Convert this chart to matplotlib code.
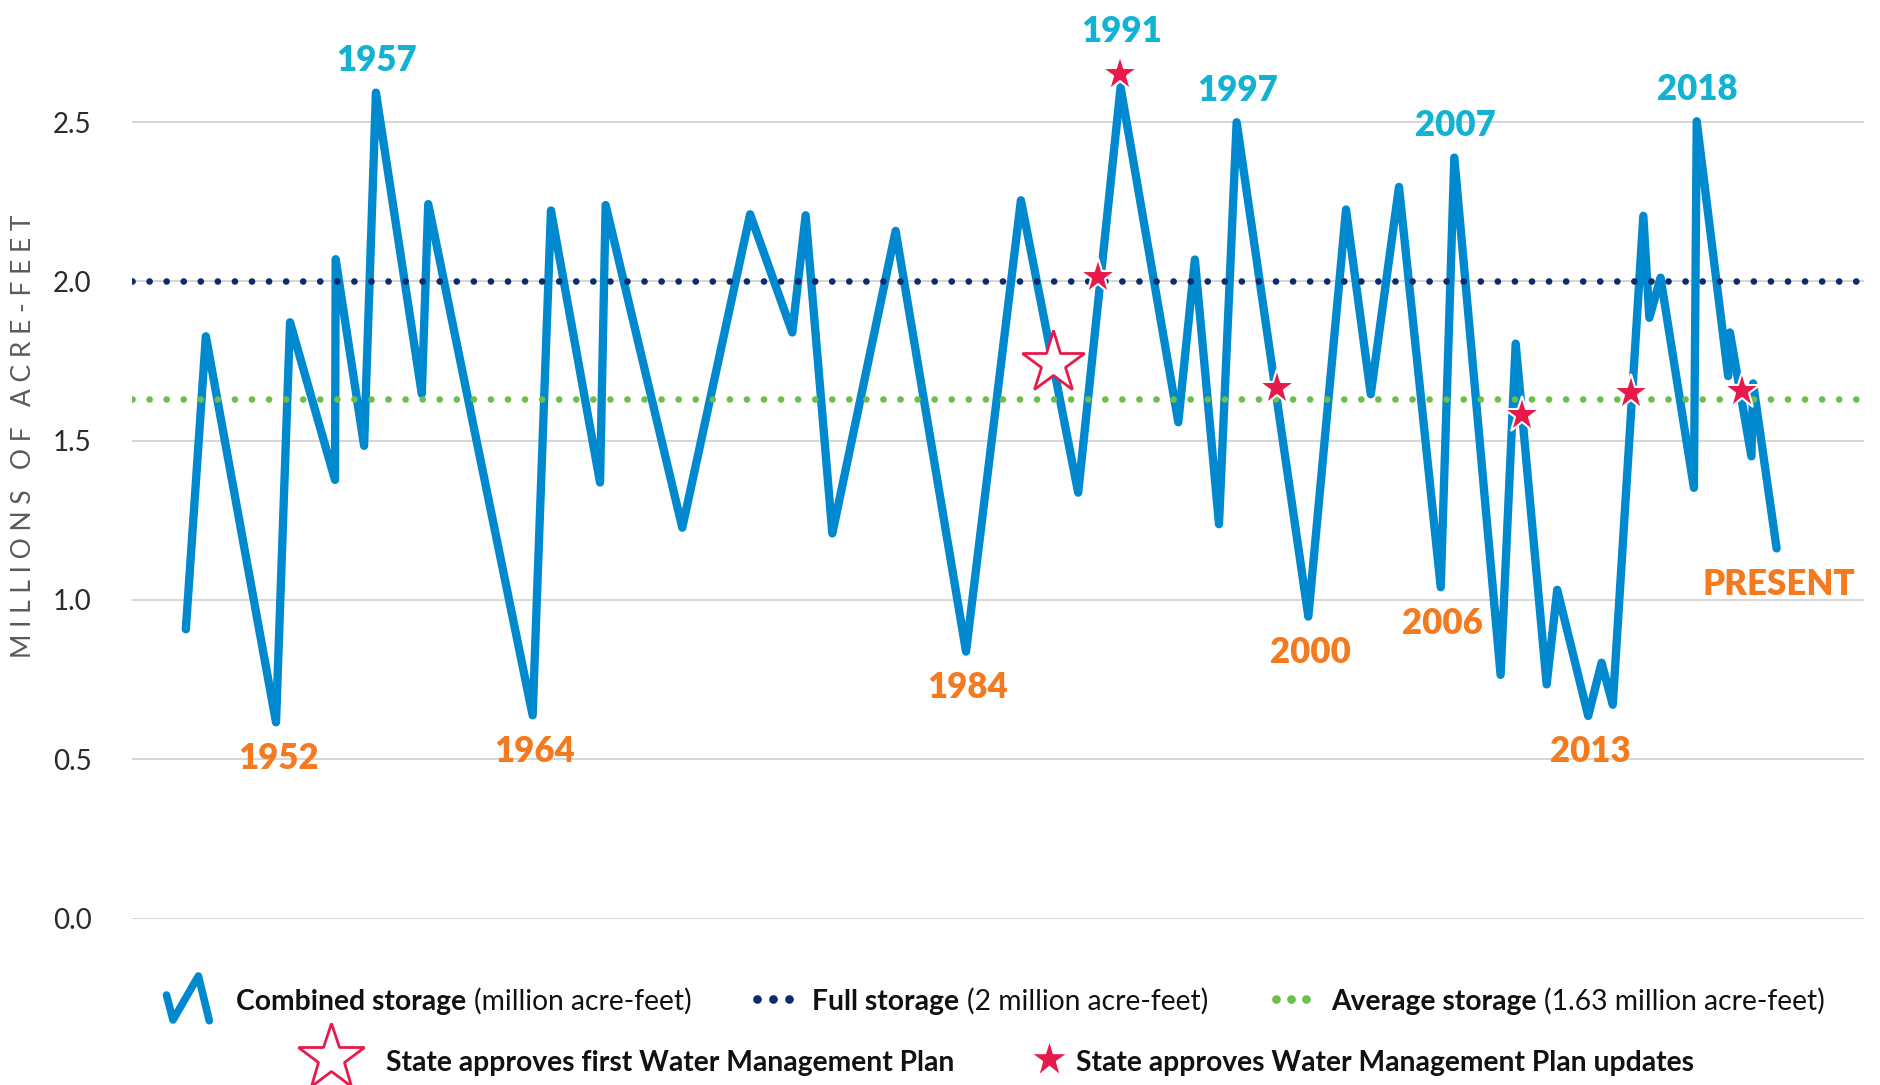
import numpy as np
import matplotlib
matplotlib.use("Agg")
import matplotlib.pyplot as plt
from matplotlib.lines import Line2D

# ---------------- data ----------------
years = [1947.81, 1948.74, 1952.00, 1952.65, 1954.74, 1954.77, 1956.09, 1956.64,
         1958.77, 1959.07, 1963.92, 1964.77, 1967.05, 1967.31, 1970.87, 1974.02,
         1975.98, 1976.60, 1977.84, 1980.78, 1984.05, 1986.60, 1989.26, 1991.23,
         1993.91, 1994.68, 1995.80, 1996.62, 1999.95, 2001.70, 2002.85, 2004.16,
         2006.10, 2006.73, 2008.88, 2009.58, 2011.02, 2011.51, 2012.95, 2013.57,
         2014.09, 2015.51, 2015.79, 2016.31, 2017.86, 2017.99, 2019.45, 2019.53,
         2020.53, 2020.61, 2021.70]
storage = [0.908, 1.828, 0.616, 1.872, 1.377, 2.070, 1.484, 2.593,
           1.647, 2.243, 0.638, 2.223, 1.369, 2.240, 1.227, 2.211,
           1.840, 2.208, 1.209, 2.159, 0.838, 2.255, 1.337, 2.610,
           1.558, 2.069, 1.238, 2.500, 0.948, 2.226, 1.646, 2.297,
           1.040, 2.389, 0.765, 1.805, 0.735, 1.032, 0.636, 0.803,
           0.671, 2.206, 1.886, 2.012, 1.352, 2.503, 1.703, 1.840,
           1.451, 1.680, 1.162]

full_storage = 2.0
average_storage = 1.63

first_plan_years = [1988.08]
first_plan_values = [1.743]
update_years = [1990.19, 1991.20, 1998.48, 2009.86, 2014.94, 2020.08]
update_values = [2.015, 2.650, 1.665, 1.581, 1.649, 1.657]

high_labels = ["1957", "1991", "1997", "2007", "2018"]
high_label_years = [1957, 1991, 1997, 2007, 2018]
low_labels = ["1952", "1964", "1984", "2000", "2006", "2013", "PRESENT"]
low_label_years = [1952, 1964, 1984, 2000, 2006, 2013, 2022]

ytick_values = [0.0, 0.5, 1.0, 1.5, 2.0, 2.5]
ytick_labels = ["0.0", "0.5", "1.0", "1.5", "2.0", "2.5"]
ylabel_text = "M I L L I O N S   O F   A C R E - F E E T"

legend_row1 = [
    [("Combined storage", "bold"), ("(million acre-feet)", "normal")],
    [("Full storage", "bold"), ("(2 million acre-feet)", "normal")],
    [("Average storage", "bold"), ("(1.63 million acre-feet)", "normal")],
]
legend_row2 = [
    [("State approves first Water Management Plan", "bold")],
    [("State approves Water Management Plan updates", "bold")],
]

# ---------------- styles ----------------
BLUE = "#0089cf"
CYAN = "#12b2d3"
ORANGE = "#f47a20"
NAVY = "#0c2c6c"
GREEN = "#6cbf48"
RED = "#e81a4b"
GRID = "#cfcfcf"
FONT = ["Lato", "DejaVu Sans"]

W, H = 1880, 1085
fig = plt.figure(figsize=(W / 100, H / 100), dpi=100)
fig.patch.set_facecolor("white")

def fx(px):
    return px / W

def fy(py):
    return 1 - py / H

ax = fig.add_axes([fx(132), fy(918.5), (1864 - 132) / W, 2.85 * 318.5 / H])
ax.set_xlim(1945.31, 2025.76)
ax.set_ylim(0, 2.85)
for s in ax.spines.values():
    s.set_visible(False)
ax.set_xticks([])
ax.set_yticks(ytick_values)
ax.set_yticklabels(ytick_labels, fontsize=20, color="#2b2b2b", family=FONT)
ax.tick_params(axis="y", length=0, pad=29)
for v in ytick_values:
    ax.axhline(v, color=GRID, lw=1.2, zorder=0)

# main series
ax.plot(years, storage, color=BLUE, lw=6.0, solid_joinstyle="round",
        solid_capstyle="round", zorder=2)

# dotted reference lines
ax.axhline(full_storage, color=NAVY, lw=4.8, linestyle=(0, (0.01, 2.55)),
           dash_capstyle="round", zorder=3)
ax.axhline(average_storage, color=GREEN, lw=4.8, linestyle=(0, (0.01, 2.55)),
           dash_capstyle="round", zorder=3)

# stars
ax.plot(first_plan_years, first_plan_values, linestyle="none", marker="*",
        markersize=47, markerfacecolor="white", markeredgecolor=RED,
        markeredgewidth=2.0, zorder=4)
ax.plot(update_years, update_values, linestyle="none", marker="*",
        markersize=28, markerfacecolor=RED, markeredgecolor="white",
        markeredgewidth=1.5, zorder=5)

yr = np.array(years)
# annotations
for lab, y in zip(high_labels, high_label_years):
    i = int(np.argmin(np.abs(yr - y)))
    off = 56 if lab == "1991" else 32
    ax.annotate(lab, (years[i], storage[i]), xytext=(1, off),
                textcoords="offset pixels", ha="center", va="center",
                fontsize=25, fontweight="heavy", color=CYAN, family=FONT,
                zorder=6)
for lab, y in zip(low_labels, low_label_years):
    i = int(np.argmin(np.abs(yr - y)))
    ax.annotate(lab, (years[i], storage[i]), xytext=(2, -36),
                textcoords="offset pixels", ha="center", va="center",
                fontsize=25, fontweight="heavy", color=ORANGE, family=FONT,
                zorder=6)

# y label
fig.text(fx(24), fy(436), ylabel_text, rotation=90, ha="center", va="center",
         fontsize=19, fontweight="normal", color="#5a5a5a", family=FONT)

# ---------------- legend ----------------
fig.canvas.draw()
renderer = fig.canvas.get_renderer()

def place_runs(runs, x0, base_y, fs):
    x = x0
    objs = []
    for k, (s, w) in enumerate(runs):
        if k > 0:
            x += 0.27 * fs * 100 / 72
        t = fig.text(fx(x), fy(base_y), s, fontsize=fs, fontweight=w,
                     family=FONT, color="#111111", ha="left", va="baseline")
        bb = t.get_window_extent(renderer)
        x += bb.width
        objs.append(t)
    return x - x0, objs

groups = [
    (legend_row1[0], 236, 688, 1010),
    (legend_row1[1], 812, 1205, 1010),
    (legend_row1[2], 1331, 1828, 1010),
    (legend_row2[0], 386, 952, 1071),
    (legend_row2[1], 1076, 1697, 1071),
]
base_fs = 18
fits = []
for runs, x0, x1, by in groups:
    wdt, objs = place_runs(runs, x0, by, base_fs)
    fits.append(base_fs * (x1 - x0) / wdt)
    for o in objs:
        o.remove()
fs_leg = float(np.mean(fits))
for runs, x0, x1, by in groups:
    place_runs(runs, x0, by, fs_leg)

# legend icons
icon_x = [166.5, 173, 198.4, 209.3]
icon_y = [995, 1020, 976, 1020.7]
fig.add_artist(Line2D([fx(v) for v in icon_x], [fy(v) for v in icon_y],
                      transform=fig.transFigure, color=BLUE, lw=5.5,
                      solid_joinstyle="round", solid_capstyle="round"))
fig.add_artist(Line2D([fx(757), fx(773), fx(789)], [fy(999)] * 3,
                      transform=fig.transFigure, linestyle="none", marker="o",
                      markersize=5.2, color=NAVY))
fig.add_artist(Line2D([fx(1276), fx(1291), fx(1306)], [fy(999)] * 3,
                      transform=fig.transFigure, linestyle="none", marker="o",
                      markersize=5.2, color=GREEN))
fig.add_artist(Line2D([fx(331)], [fy(1058)], transform=fig.transFigure,
                      linestyle="none", marker="*", markersize=50,
                      markerfacecolor="white", markeredgecolor=RED,
                      markeredgewidth=2.0))
fig.add_artist(Line2D([fx(1049)], [fy(1059)], transform=fig.transFigure,
                      linestyle="none", marker="*", markersize=28,
                      markerfacecolor=RED, markeredgecolor="white",
                      markeredgewidth=1.0))

fig.savefig("out.png", dpi=100, facecolor="white")
